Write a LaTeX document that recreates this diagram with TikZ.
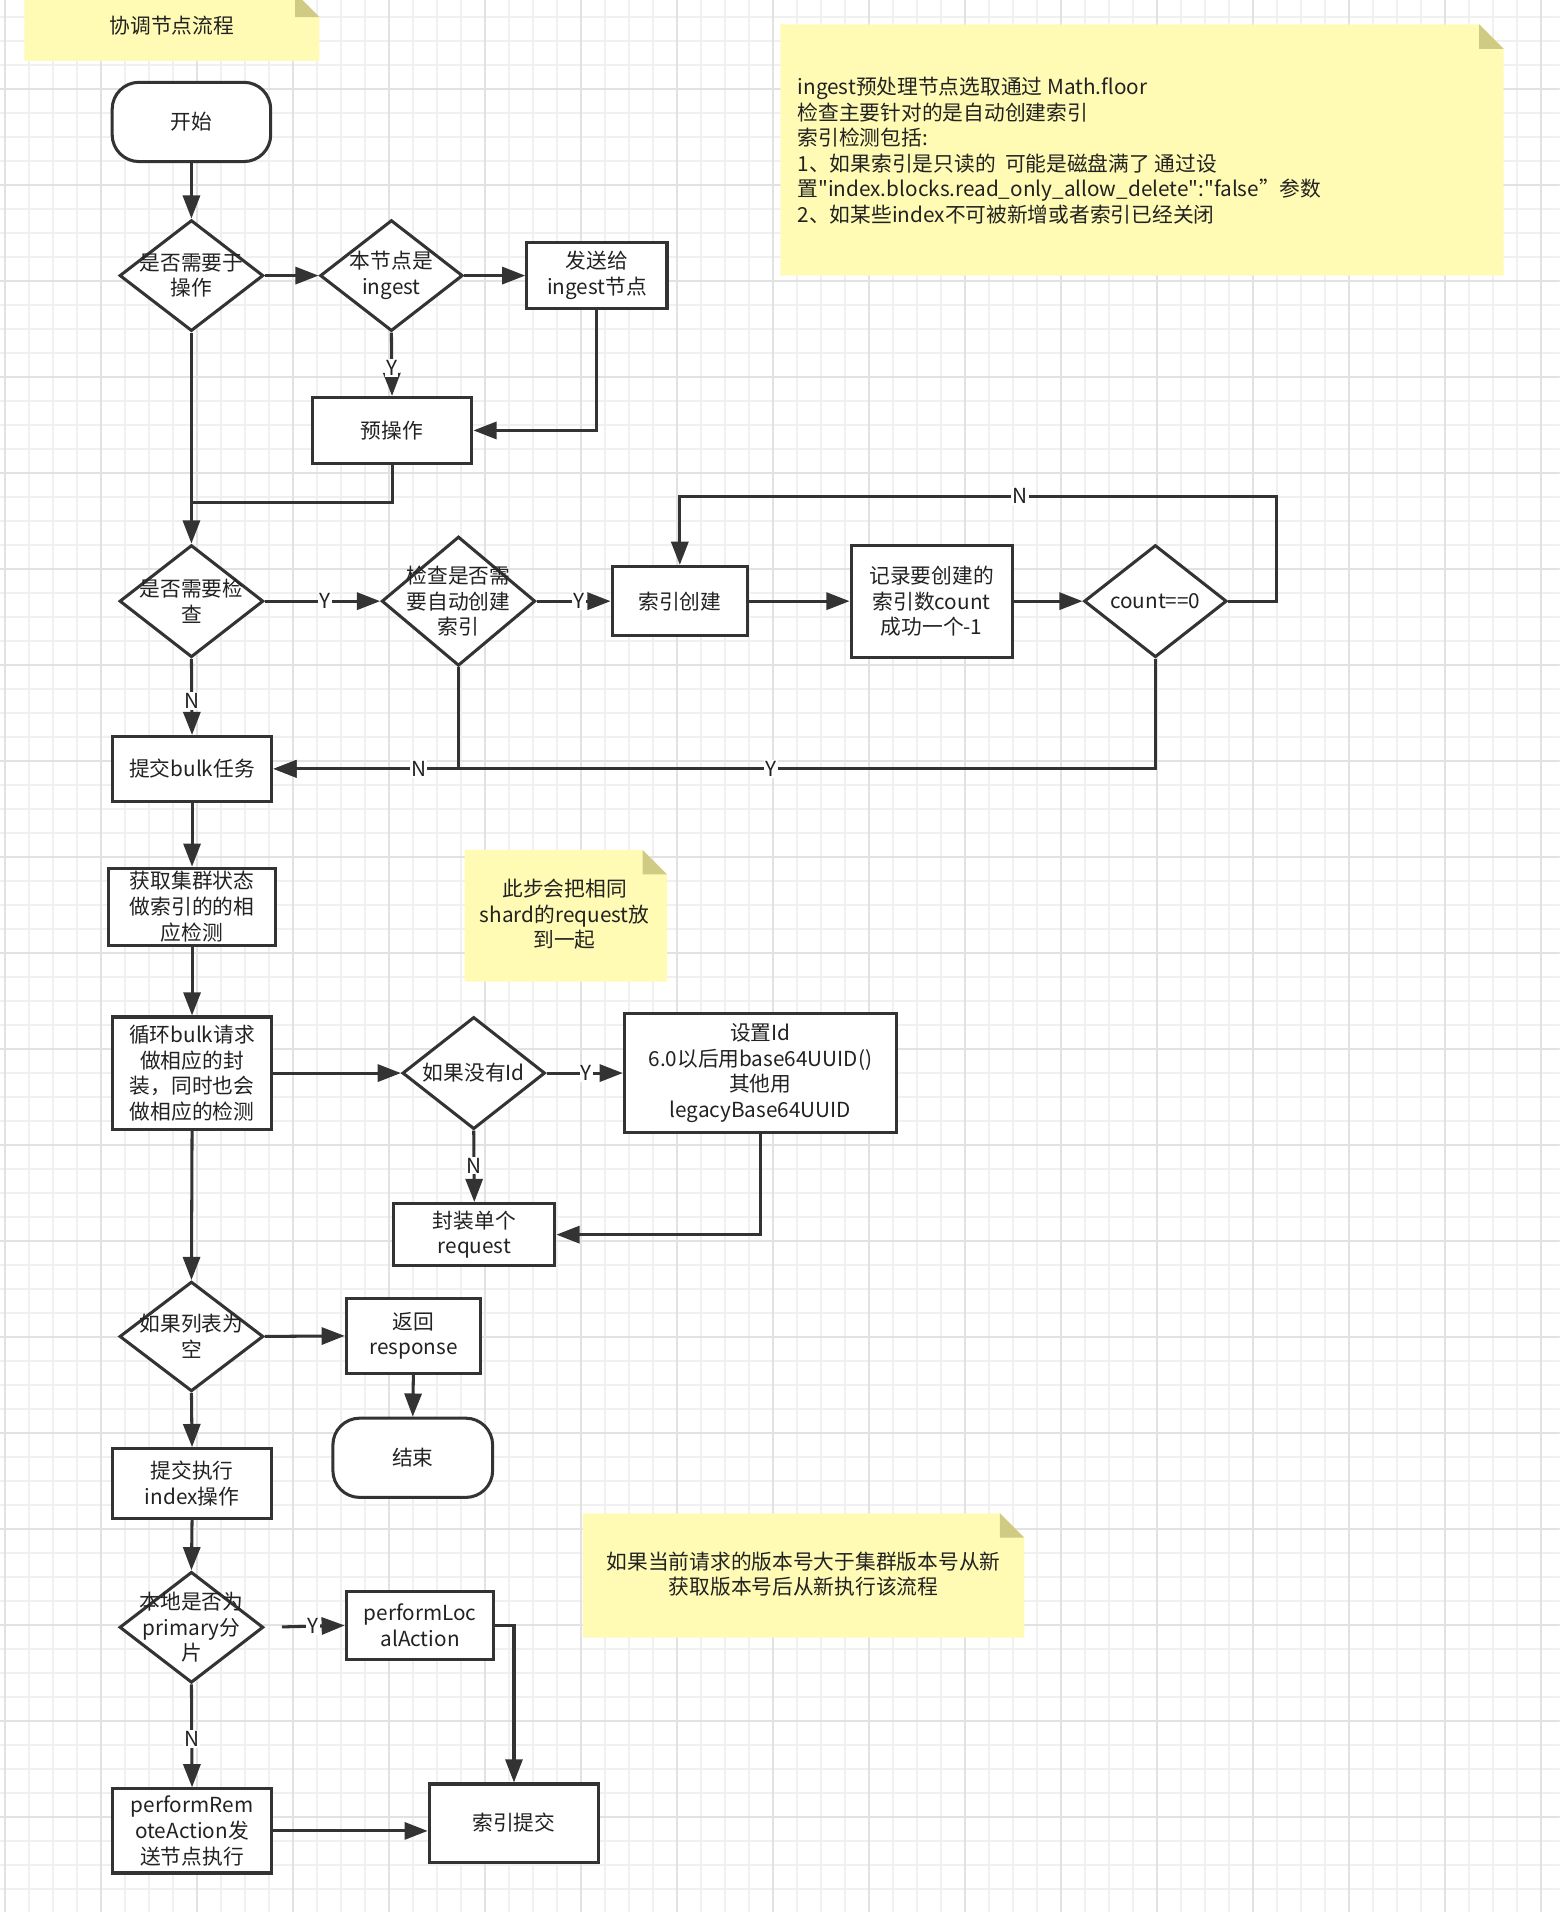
\documentclass[tikz,border=0pt]{standalone}
\usepackage{fontspec}
\setmainfont{Noto Sans CJK SC}[Ligatures=TeXOff]
\usetikzlibrary{shapes.geometric,arrows.meta}
\definecolor{linec}{HTML}{333333}
\definecolor{txtc}{HTML}{222222}
\definecolor{notey}{HTML}{FFFBB4}
\definecolor{notef}{HTML}{CFCB85}
\definecolor{gmin}{HTML}{F0F0F0}
\definecolor{gmaj}{HTML}{E2E2E2}
\newcommand{\notepaper}[4]{%
  \fill[notey] (#1,#2) -- ({#3-20},#2) -- (#3,{#2+20}) -- (#3,#4) -- (#1,#4) -- cycle;
  \fill[notef] ({#3-20},#2) -- ({#3-20},{#2+20}) -- (#3,{#2+20}) -- cycle;}
\begin{document}
\begin{tikzpicture}[x=1pt,y=-1pt,
  every node/.style={font=\fontsize{17pt}{21pt}\selectfont, text=txtc},
  box/.style={draw=linec, line width=2.5pt, fill=white, inner sep=0pt, align=center},
  term/.style={box, rounded corners=22pt},
  dia/.style={diamond, draw=linec, line width=2.5pt, fill=white, inner sep=0pt},
  dtxt/.style={align=center, inner sep=0pt},
  arr/.style={draw=linec, line width=2.5pt, -{Triangle[length=19pt,width=14pt]}},
  ln/.style={draw=linec, line width=2.5pt},
  lab/.style={fill=white, inner sep=1pt},
  gridmin/.style={draw=gmin, line width=1.2pt},
  gridmaj/.style={draw=gmaj, line width=1.5pt}
]
\useasboundingbox (0,0) rectangle (1279,1568);
\clip (0,0) rectangle (1279,1568);
\fill[white] (0,0) rectangle (1279,1568);
% grid
\foreach \i in {0,...,65} \draw[gridmin] ({4.1+\i*19.68},0) -- ({4.1+\i*19.68},1568);
\foreach \j in {0,...,79} \draw[gridmin] (0,{13.9+\j*19.68}) -- (1279,{13.9+\j*19.68});
\foreach \i in {0,4,...,64} \draw[gridmaj] ({4.1+\i*19.68},0) -- ({4.1+\i*19.68},1568);
\foreach \j in {3,7,...,79} \draw[gridmaj] (0,{13.9+\j*19.68}) -- (1279,{13.9+\j*19.68});

% notes
\notepaper{20}{-6}{262}{50}
\node[inner sep=0pt] (titlet) at (141,21) {协调节点流程};
\notepaper{640}{20}{1233}{226}
\node[anchor=west, align=left, inner sep=0pt] (n1t) at (654,123.5) {ingest预处理节点选取通过 Math.floor\\检查主要针对的是自动创建索引\\索引检测包括:\\1、如果索引是只读的\ \ 可能是磁盘满了 通过设\\置"index.blocks.read\_only\_allow\_delete":"false”参数\\2、如某些index不可被新增或者索引已经关闭};
\notepaper{381}{697}{547}{805}
\node[align=center, inner sep=0pt] (n2t) at (463,750) {此步会把相同\\shard的request放\\到一起};
\notepaper{478}{1241}{840}{1343}
\node[align=center, inner sep=0pt] (n3t) at (659,1291) {如果当前请求的版本号大于集群版本号从新\\获取版本号后从新执行该流程};

% nodes
\node[term, minimum width=130pt, minimum height=65pt] (start) at (157,100) {开始};
\node[dia, minimum width=118pt, minimum height=91pt] (d1) at (157,226) {};
\node[dtxt] (d1t) at (d1) {是否需要于\\操作};
\node[dia, minimum width=117pt, minimum height=91pt] (d2) at (321,226) {};
\node[dtxt] (d2t) at (d2) {本节点是\\ingest};
\node[box, minimum width=115pt, minimum height=54pt] (send) at (489.5,226) {发送给\\ingest节点};
\node[box, minimum width=131pt, minimum height=54pt] (pre) at (321.5,353) {预操作};
\node[dia, minimum width=118pt, minimum height=92pt] (d3) at (157,493) {};
\node[dtxt] (d3t) at (d3) {是否需要检\\查};
\node[dia, minimum width=126pt, minimum height=106pt] (d4) at (376,493) {};
\node[dtxt] (d4t) at (d4) {检查是否需\\要自动创建\\索引};
\node[box, minimum width=111pt, minimum height=57pt] (idx) at (557.5,493) {索引创建};
\node[box, minimum width=132pt, minimum height=92pt] (rec) at (764,493) {记录要创建的\\索引数count\\成功一个-1};
\node[dia, minimum width=117pt, minimum height=92pt] (d5) at (947.5,493) {};
\node[dtxt] (d5t) at (d5) {count==0};
\node[box, minimum width=131pt, minimum height=53pt] (bulk) at (157.5,630.5) {提交bulk任务};
\node[box, minimum width=137pt, minimum height=63pt] (state) at (157.5,743.5) {获取集群状态\\做索引的的相\\应检测};
\node[box, minimum width=131pt, minimum height=92pt] (loop) at (157.5,880) {循环bulk请求\\做相应的封\\装，同时也会\\做相应的检测};
\node[dia, minimum width=117pt, minimum height=92pt] (d6) at (388.5,880) {};
\node[dtxt] (d6t) at (d6) {如果没有Id};
\node[box, minimum width=223pt, minimum height=98pt] (setid) at (623.5,880) {设置Id\\6.0以后用base64UUID()\\其他用\\legacyBase64UUID};
\node[box, minimum width=132pt, minimum height=51pt] (pack) at (389,1012.5) {封装单个\\request};
\node[dia, minimum width=118pt, minimum height=90pt] (d7) at (157,1096) {};
\node[dtxt] (d7t) at (d7) {如果列表为\\空};
\node[box, minimum width=110pt, minimum height=61pt] (resp) at (339,1095.5) {返回\\response};
\node[term, minimum width=131pt, minimum height=65pt] (end) at (338.5,1195.5) {结束};
\node[box, minimum width=131pt, minimum height=57pt] (sub) at (157.5,1216.5) {提交执行\\index操作};
\node[dia, minimum width=118pt, minimum height=91pt] (d8) at (157,1334.5) {};
\node[dtxt] (d8t) at (d8) {本地是否为\\primary分\\片};
\node[box, minimum width=121pt, minimum height=56pt] (local) at (344.5,1333) {performLoc\\alAction};
\node[box, minimum width=131pt, minimum height=69pt] (remote) at (157.5,1501.5) {performRem\\oteAction发\\送节点执行};
\node[box, minimum width=139pt, minimum height=64pt] (commit) at (421.5,1495) {索引提交};

\coordinate (j1) at (157,412);
\coordinate (c1) at (1047,493);
\coordinate (c2) at (1047,407);

% connectors
\draw[arr] (start) -- (d1);
\draw[arr] (d1.east) -- (d2.west);
\draw[arr] (d2.east) -- (send.west);
\draw[arr] (d2.south) -- node[lab, pos=0.56] {Y} (pre.north);
\draw[arr] (send.south) |- (pre.east);
\draw[ln] (pre.south) |- (j1);
\draw[arr] (d1.south) -- (d3.north);
\draw[arr] (d3.east) -- node[lab, pos=0.52] {Y} (d4.west);
\draw[arr] (d4.east) -- node[lab, pos=0.57] {Y} (idx.west);
\draw[arr] (idx.east) -- (rec.west);
\draw[arr] (rec.east) -- (d5.west);
\draw[arr] (d5.east) -- (c1) -- (c2) -- node[lab, pos=0.43] {N} (c2 -| idx.north) -- (idx.north);
\draw[arr] (d5.south) |- node[lab, pos=0.718] {Y} (bulk.east);
\draw[arr] (d4.south) |- node[lab, pos=0.608] {N} (bulk.east);
\draw[arr] (d3.south) -- node[lab, pos=0.55] {N} (bulk.north);
\draw[arr] (bulk.south) -- (state.north);
\draw[arr] (state.south) -- (loop.north);
\draw[arr] (loop.east) -- (d6.west);
\draw[arr] (d6.east) -- node[lab, pos=0.52] {Y} (setid.west);
\draw[arr] (d6.south) -- node[lab, pos=0.49] {N} (pack.north);
\draw[arr] (setid.south) |- (pack.east);
\draw[arr] (loop.south) -- (d7.north);
\draw[arr] (d7.east) -- (resp.west);
\draw[arr] (resp.south) -- (end.north);
\draw[arr] (d7.south) -- (sub.north);
\draw[arr] (sub.south) -- (d8.north);
\draw[arr, shorten <=14pt] (d8.east) -- node[lab, pos=0.6] {Y} (local.west);
\draw[arr] (local.east) -| (commit.north);
\draw[arr] (d8.south) -- node[lab, pos=0.53] {N} (remote.north);
\draw[arr] (remote.east) -- (remote.east -| commit.west);
\end{tikzpicture}
\end{document}
